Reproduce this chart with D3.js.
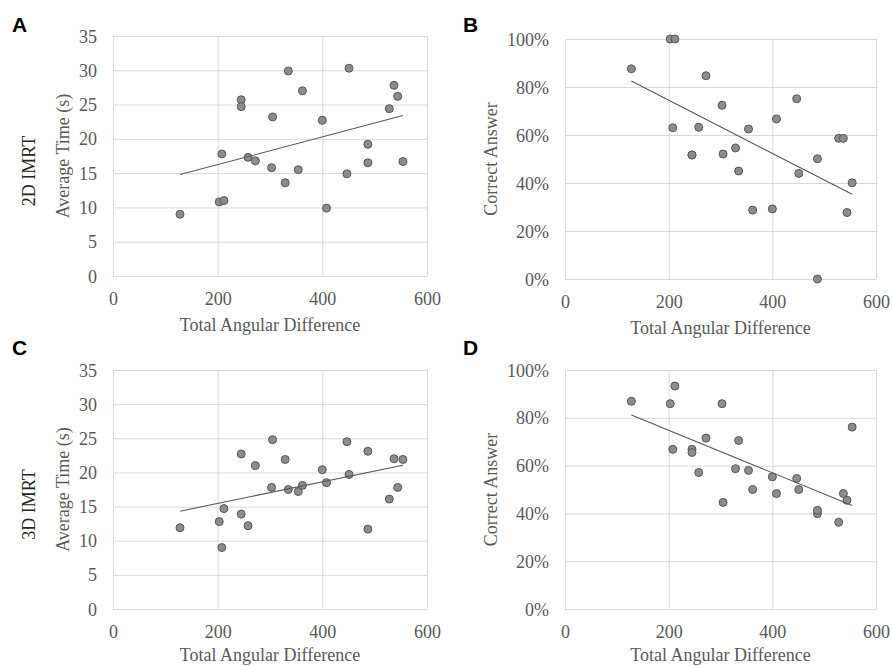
<!DOCTYPE html>
<html>
<head>
<meta charset="utf-8">
<script src="https://cdn.jsdelivr.net/npm/d3@7"></script>
<style>
  body { margin: 0; background: #fff; }
  svg { display: block; }
</style>
</head>
<body>
<div id="viz_div"></div>
<script>
// DATA
// ---------------------------------------------------------------------------------------------------------------------------------
const angles = [128, 203, 208, 212, 245, 245, 258, 272, 303, 305, 329, 335, 354, 362, 400, 408, 447, 451, 487, 487, 528, 537, 544, 554];

const time2D = [9.0, 10.8, 17.8, 11.0, 25.7, 24.7, 17.3, 16.8, 15.8, 23.2, 13.6, 29.9, 15.5, 27.0, 22.7, 9.9, 14.9, 30.3, 16.5, 19.2, 24.4, 27.8, 26.2, 16.7];
const correct2D = [0.876, 1.0, 0.63, 1.0, 0.517, 0.517, 0.632, 0.847, 0.724, 0.521, 0.546, 0.45, 0.625, 0.287, 0.292, 0.667, 0.751, 0.44, 0.501, 0.0, 0.586, 0.586, 0.277, 0.401];
const time3D = [11.9, 12.8, 9.0, 14.7, 22.7, 13.9, 12.2, 21.0, 17.8, 24.8, 21.9, 17.5, 17.2, 18.1, 20.4, 18.5, 24.5, 19.7, 11.7, 23.1, 16.1, 22.0, 17.8, 21.9];
const correct3D = [0.869, 0.859, 0.668, 0.933, 0.668, 0.655, 0.571, 0.715, 0.859, 0.446, 0.587, 0.705, 0.58, 0.50, 0.553, 0.483, 0.546, 0.50, 0.399, 0.413, 0.363, 0.483, 0.455, 0.761];

const angleTicks = [0, 200, 400, 600];
const timeTicks = [0, 5, 10, 15, 20, 25, 30, 35];
const pctTicks = [0, 0.2, 0.4, 0.6, 0.8, 1.0];

const SERIF = "'Liberation Serif', 'Times New Roman', Times, serif";

// PANELS
// ---------------------------------------------------------------------------------------------------------------------------------
const panels = [
    { letter: "A", values: time2D, ticks: timeTicks, max: 35, fmt: d3.format("d"), ytitle: "Average Time (s)", row: "2D IMRT", box: [113, 36, 427, 276], lx: 12, ly: 32 },
    { letter: "B", values: correct2D, ticks: pctTicks, max: 1, fmt: d3.format(".0%"), ytitle: "Correct Answer", row: null, box: [565, 39, 876, 279], lx: 463, ly: 32 },
    { letter: "C", values: time3D, ticks: timeTicks, max: 35, fmt: d3.format("d"), ytitle: "Average Time (s)", row: "3D IMRT", box: [113, 370, 427, 609], lx: 12, ly: 355 },
    { letter: "D", values: correct3D, ticks: pctTicks, max: 1, fmt: d3.format(".0%"), ytitle: "Correct Answer", row: null, box: [565, 370, 876, 609], lx: 463, ly: 355 }
];

const svg = d3.select("#viz_div")
    .append("svg")
    .attr("width", 892)
    .attr("height", 666);

function linearFit(xs, ys) {
    const mx = d3.mean(xs), my = d3.mean(ys);
    let sxy = 0, sxx = 0;
    xs.forEach((x, i) => { sxy += (x - mx) * (ys[i] - my); sxx += (x - mx) * (x - mx); });
    const slope = sxy / sxx;
    return x => my + slope * (x - mx);
}

panels.forEach(p => {
    const [x0, y0, x1, y1] = p.box;
    const x = d3.scaleLinear([0, 600], [x0, x1]);
    const y = d3.scaleLinear([0, p.max], [y1, y0]);
    const g = svg.append("g");

    // gridlines + tick labels
    g.append("g")
        .attr("transform", `translate(0,${y1})`)
        .call(d3.axisBottom(x).tickValues(angleTicks).tickSize(-(y1 - y0)).tickPadding(10).tickFormat(d3.format("d")))
        .call(a => a.select(".domain").remove())
        .call(a => a.selectAll(".tick line").attr("stroke", "#d9d9d9"))
        .call(a => a.selectAll(".tick text").attr("dy", "1.05em")
            .style("font-family", SERIF).style("font-size", "18px").style("fill", "#595959"));

    g.append("g")
        .attr("transform", `translate(${x0},0)`)
        .call(d3.axisLeft(y).tickValues(p.ticks).tickSize(-(x1 - x0)).tickPadding(16).tickFormat(p.fmt))
        .call(a => a.select(".domain").remove())
        .call(a => a.selectAll(".tick line").attr("stroke", "#d9d9d9"))
        .call(a => a.selectAll(".tick text").attr("dy", "0.34em")
            .style("font-family", SERIF).style("font-size", "18px").style("fill", "#595959"));

    // points
    g.selectAll("circle")
        .data(angles.map((a, i) => [a, p.values[i]]))
        .enter()
        .append("circle")
        .attr("cx", d => x(d[0]))
        .attr("cy", d => y(d[1]))
        .attr("r", 4)
        .attr("fill", "#8c8c8c")
        .attr("stroke", "#575757")
        .attr("stroke-width", 1);

    // linear trendline
    const fit = linearFit(angles, p.values);
    const ext = d3.extent(angles);
    g.append("path")
        .datum(ext)
        .attr("fill", "none")
        .attr("stroke", "#595959")
        .attr("stroke-width", 1.1)
        .attr("d", d3.line().x(d => x(d)).y(d => y(fit(d))));

    // axis titles
    g.append("text")
        .attr("x", (x0 + x1) / 2)
        .attr("y", Math.min(y1 + 55, 661))
        .attr("text-anchor", "middle")
        .style("font-family", SERIF)
        .style("font-size", "18px")
        .style("fill", "#595959")
        .text("Total Angular Difference");

    const ytx = p.row ? x0 - 44 : x0 - 68;
    g.append("text")
        .attr("transform", `translate(${ytx},${(y0 + y1) / 2}) rotate(-90)`)
        .attr("text-anchor", "middle")
        .style("font-family", SERIF)
        .style("font-size", "18px")
        .style("fill", "#595959")
        .text(p.ytitle);

    if (p.row) {
        g.append("text")
            .attr("transform", `translate(${x0 - 78},${(y0 + y1) / 2 + 15}) rotate(-90)`)
            .attr("text-anchor", "middle")
            .style("font-family", SERIF)
            .style("font-size", "18px")
            .style("fill", "#262626")
            .text(p.row);
    }

    // panel letter
    g.append("text")
        .attr("x", p.lx)
        .attr("y", p.ly)
        .style("font-family", "'Liberation Sans', Arial, sans-serif")
        .style("font-size", "21px")
        .style("font-weight", "bold")
        .style("fill", "#000")
        .text(p.letter);
});
</script>
</body>
</html>
